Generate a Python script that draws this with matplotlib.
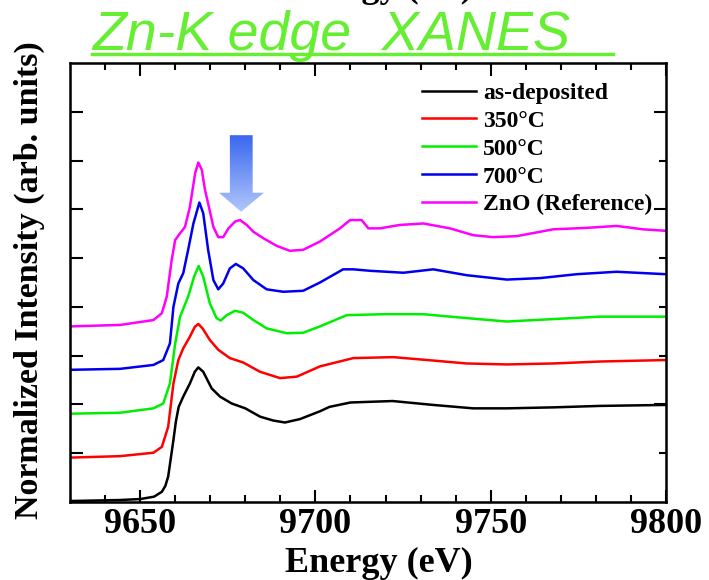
import numpy as np
import matplotlib
matplotlib.use("Agg")
from matplotlib import pyplot as plt
from matplotlib.patches import Polygon
from matplotlib.lines import Line2D
from matplotlib.colors import LinearSegmentedColormap

# values (energy in eV, intensity offset per curve)
e_asdep = [9630, 9644, 9650, 9654, 9656.2, 9657.2, 9658, 9659.5, 9660.2, 9661, 9662.3, 9664.2,
           9665.6, 9666.6, 9668, 9670.4, 9672.8, 9676.1, 9680, 9684.2, 9688, 9691.3, 9695.6,
           9701.3, 9704, 9710, 9722, 9733.6, 9745, 9754.6, 9767.8, 9781.2, 9800]
i_asdep = [0.02, 0.04, 0.06, 0.11, 0.21, 0.33, 0.52, 1.27, 1.65, 1.95, 2.16, 2.43,
           2.67, 2.76, 2.67, 2.33, 2.16, 2.02, 1.92, 1.75, 1.67, 1.63, 1.70,
           1.86, 1.95, 2.04, 2.07, 1.99, 1.92, 1.92, 1.94, 1.97, 1.99]

e_350 = [9630, 9644.3, 9653.8, 9656.2, 9658, 9659.5, 9660.9, 9662.3, 9664.2, 9665.6, 9666.6,
         9667.8, 9669.9, 9672.3, 9675.6, 9679.4, 9684.2, 9689.9, 9694.7, 9701.3, 9710.8,
         9722.2, 9733.6, 9743.1, 9754.6, 9767.8, 9781.2, 9800]
i_350 = [0.91, 0.94, 1.01, 1.13, 1.54, 2.43, 2.91, 3.15, 3.39, 3.59, 3.65,
         3.56, 3.32, 3.12, 2.95, 2.86, 2.67, 2.54, 2.57, 2.78, 2.95,
         2.97, 2.90, 2.84, 2.82, 2.84, 2.88, 2.91]

e_500 = [9630, 9644.3, 9653.8, 9656.6, 9658.5, 9660, 9661.4, 9663.7, 9665.4, 9666.7, 9668,
         9669.9, 9671.8, 9673, 9674.7, 9677.1, 9679.4, 9682.3, 9686.1, 9691.8, 9696.5,
         9701.3, 9708.9, 9719.4, 9730.8, 9743.1, 9754.6, 9767.8, 9781.2, 9800]
i_500 = [1.81, 1.83, 1.92, 2.02, 2.43, 3.25, 3.80, 4.21, 4.62, 4.84, 4.62,
         4.07, 3.77, 3.72, 3.83, 3.92, 3.88, 3.73, 3.56, 3.46, 3.47,
         3.60, 3.83, 3.85, 3.85, 3.77, 3.70, 3.75, 3.80, 3.80]

e_700 = [9630, 9644.3, 9653.8, 9656.6, 9658.5, 9659.5, 9660.9, 9662.3, 9663.7, 9665.2, 9666.9,
         9668, 9669.4, 9670.9, 9672.3, 9673.7, 9675.6, 9677.3, 9679.4, 9682.3, 9686.1,
         9690.8, 9696.5, 9701.3, 9707.9, 9710.8, 9715.6, 9725.1, 9733.6, 9743.1, 9754.6,
         9764.1, 9774.5, 9785.9, 9800]
i_700 = [2.71, 2.73, 2.81, 2.91, 3.25, 4.00, 4.48, 4.69, 5.17, 5.71, 6.14,
         5.92, 5.17, 4.55, 4.36, 4.48, 4.79, 4.88, 4.79, 4.55, 4.36,
         4.31, 4.33, 4.50, 4.77, 4.77, 4.74, 4.70, 4.77, 4.65, 4.56,
         4.59, 4.67, 4.72, 4.67]

e_zno = [9630, 9644.3, 9653.8, 9656.2, 9657.6, 9659, 9660, 9661.4, 9662.8, 9664.2, 9665.7,
         9666.6, 9667.6, 9668.5, 9669.4, 9670.9, 9672.3, 9673.7, 9675.2, 9677.1, 9678.5,
         9680.4, 9682.3, 9685.1, 9689, 9692.7, 9696.5, 9701.3, 9707, 9709.9, 9713.2,
         9715.1, 9718.4, 9724.1, 9730.8, 9738.4, 9745, 9750.7, 9757.4, 9767.8, 9777.4,
         9785.9, 9793.5, 9800]
i_zno = [3.60, 3.63, 3.73, 3.87, 4.21, 4.96, 5.37, 5.51, 5.64, 6.05, 6.74,
         6.96, 6.81, 6.40, 6.12, 5.64, 5.43, 5.43, 5.61, 5.75, 5.78,
         5.68, 5.54, 5.41, 5.25, 5.15, 5.17, 5.34, 5.61, 5.78, 5.78,
         5.61, 5.61, 5.68, 5.71, 5.61, 5.47, 5.43, 5.45, 5.59, 5.62,
         5.66, 5.59, 5.56]

labels = ["as-deposited", "350°C", "500°C", "700°C", "ZnO (Reference)"]
colors = ["black", "red", "#00ee00", "#0000ee", "magenta"]


def xanes_pic():
    matplotlib.rc("font", family="Liberation Serif", weight="bold")
    fig = plt.figure(figsize=(7.09, 5.80), dpi=100)
    ax = fig.add_axes([70 / 709, 78 / 580, 596 / 709, 439 / 580])

    series = [(e_asdep, i_asdep), (e_350, i_350), (e_500, i_500), (e_700, i_700), (e_zno, i_zno)]
    for (xs, ys), lab, col in zip(series, labels, colors):
        ax.plot(xs, ys, color=col, lw=1.8, label=lab)

    ax.set_xlim(9630, 9800)
    ax.set_ylim(0, 9)
    ax.set_xticks([9650, 9700, 9750, 9800])
    ax.set_xticks(np.arange(9640, 9800, 10), minor=True)
    ax.set_yticks(np.arange(1, 9))
    ax.set_yticklabels([])
    ax.tick_params(axis="x", which="major", direction="in", top=True, length=9, width=1.5,
                   labelsize=26, pad=4)
    ax.tick_params(axis="x", which="minor", direction="in", top=True, length=5, width=1.5)
    ax.tick_params(axis="y", which="major", direction="in", right=False, length=9, width=1.5)
    for sp in ax.spines.values():
        sp.set_linewidth(1.8)

    # right side ticks: some long, some short
    tw = ax.twinx()
    tw.set_ylim(0, 9)
    tw.set_yticks([2, 6, 8])
    tw.set_yticks([1, 3, 4, 5, 7], minor=True)
    tw.tick_params(which="major", direction="in", length=9, width=1.5, labelright=False)
    tw.tick_params(which="minor", direction="in", length=5, width=1.5)

    ax.set_xlabel("Energy (eV)", fontsize=26, fontweight="bold", va="baseline")
    ax.xaxis.set_label_coords(0.5176, -0.1595)
    ax.set_ylabel("Normalized Intensity (arb. units)", fontsize=24.5, fontweight="bold",
                  va="baseline")
    ax.yaxis.set_label_coords(-0.0537, 0.506)

    ax.legend(loc="upper left", bbox_to_anchor=(0.59, 0.956), frameon=False, fontsize=17,
              handlelength=2.3, handletextpad=0.3, labelspacing=0.27, borderpad=0,
              borderaxespad=0)

    # gradient arrow pointing at the second peak
    arrow = Polygon([(9675.6, 7.52), (9682.1, 7.52), (9682.1, 6.34), (9685.3, 6.34),
                     (9678.8, 5.95), (9672.5, 6.34), (9675.6, 6.34)],
                    closed=True, facecolor="none", edgecolor="none")
    ax.add_patch(arrow)
    cmap = LinearSegmentedColormap.from_list("arr", ["#3a68f0", "#b0c6fa"])
    im = ax.imshow(np.linspace(0, 1, 100).reshape(-1, 1), cmap=cmap, aspect="auto",
                   extent=[9672.5, 9685.3, 5.95, 7.52], origin="upper", zorder=3)
    im.set_clip_path(arrow)
    ax.set_xlim(9630, 9800)
    ax.set_ylim(0, 9)

    # title in green with underline, plus the cut-off label at the very top
    fig.text(92 / 709, 1 - 50 / 580, "Zn-K edge  XANES", family="Liberation Sans",
             style="italic", weight="normal", fontsize=40, color="#66ee33", va="baseline")
    fig.add_artist(Line2D([92 / 709, 613 / 709], [1 - 54 / 580] * 2,
                          transform=fig.transFigure, color="#66ee33", lw=2.5))
    fig.text(378.5 / 709, 1 + 3 / 580, "Energy (eV)", fontsize=26, ha="center", va="baseline")

    fig.savefig("out.png", dpi=100)


if __name__ == '__main__':
    xanes_pic()
